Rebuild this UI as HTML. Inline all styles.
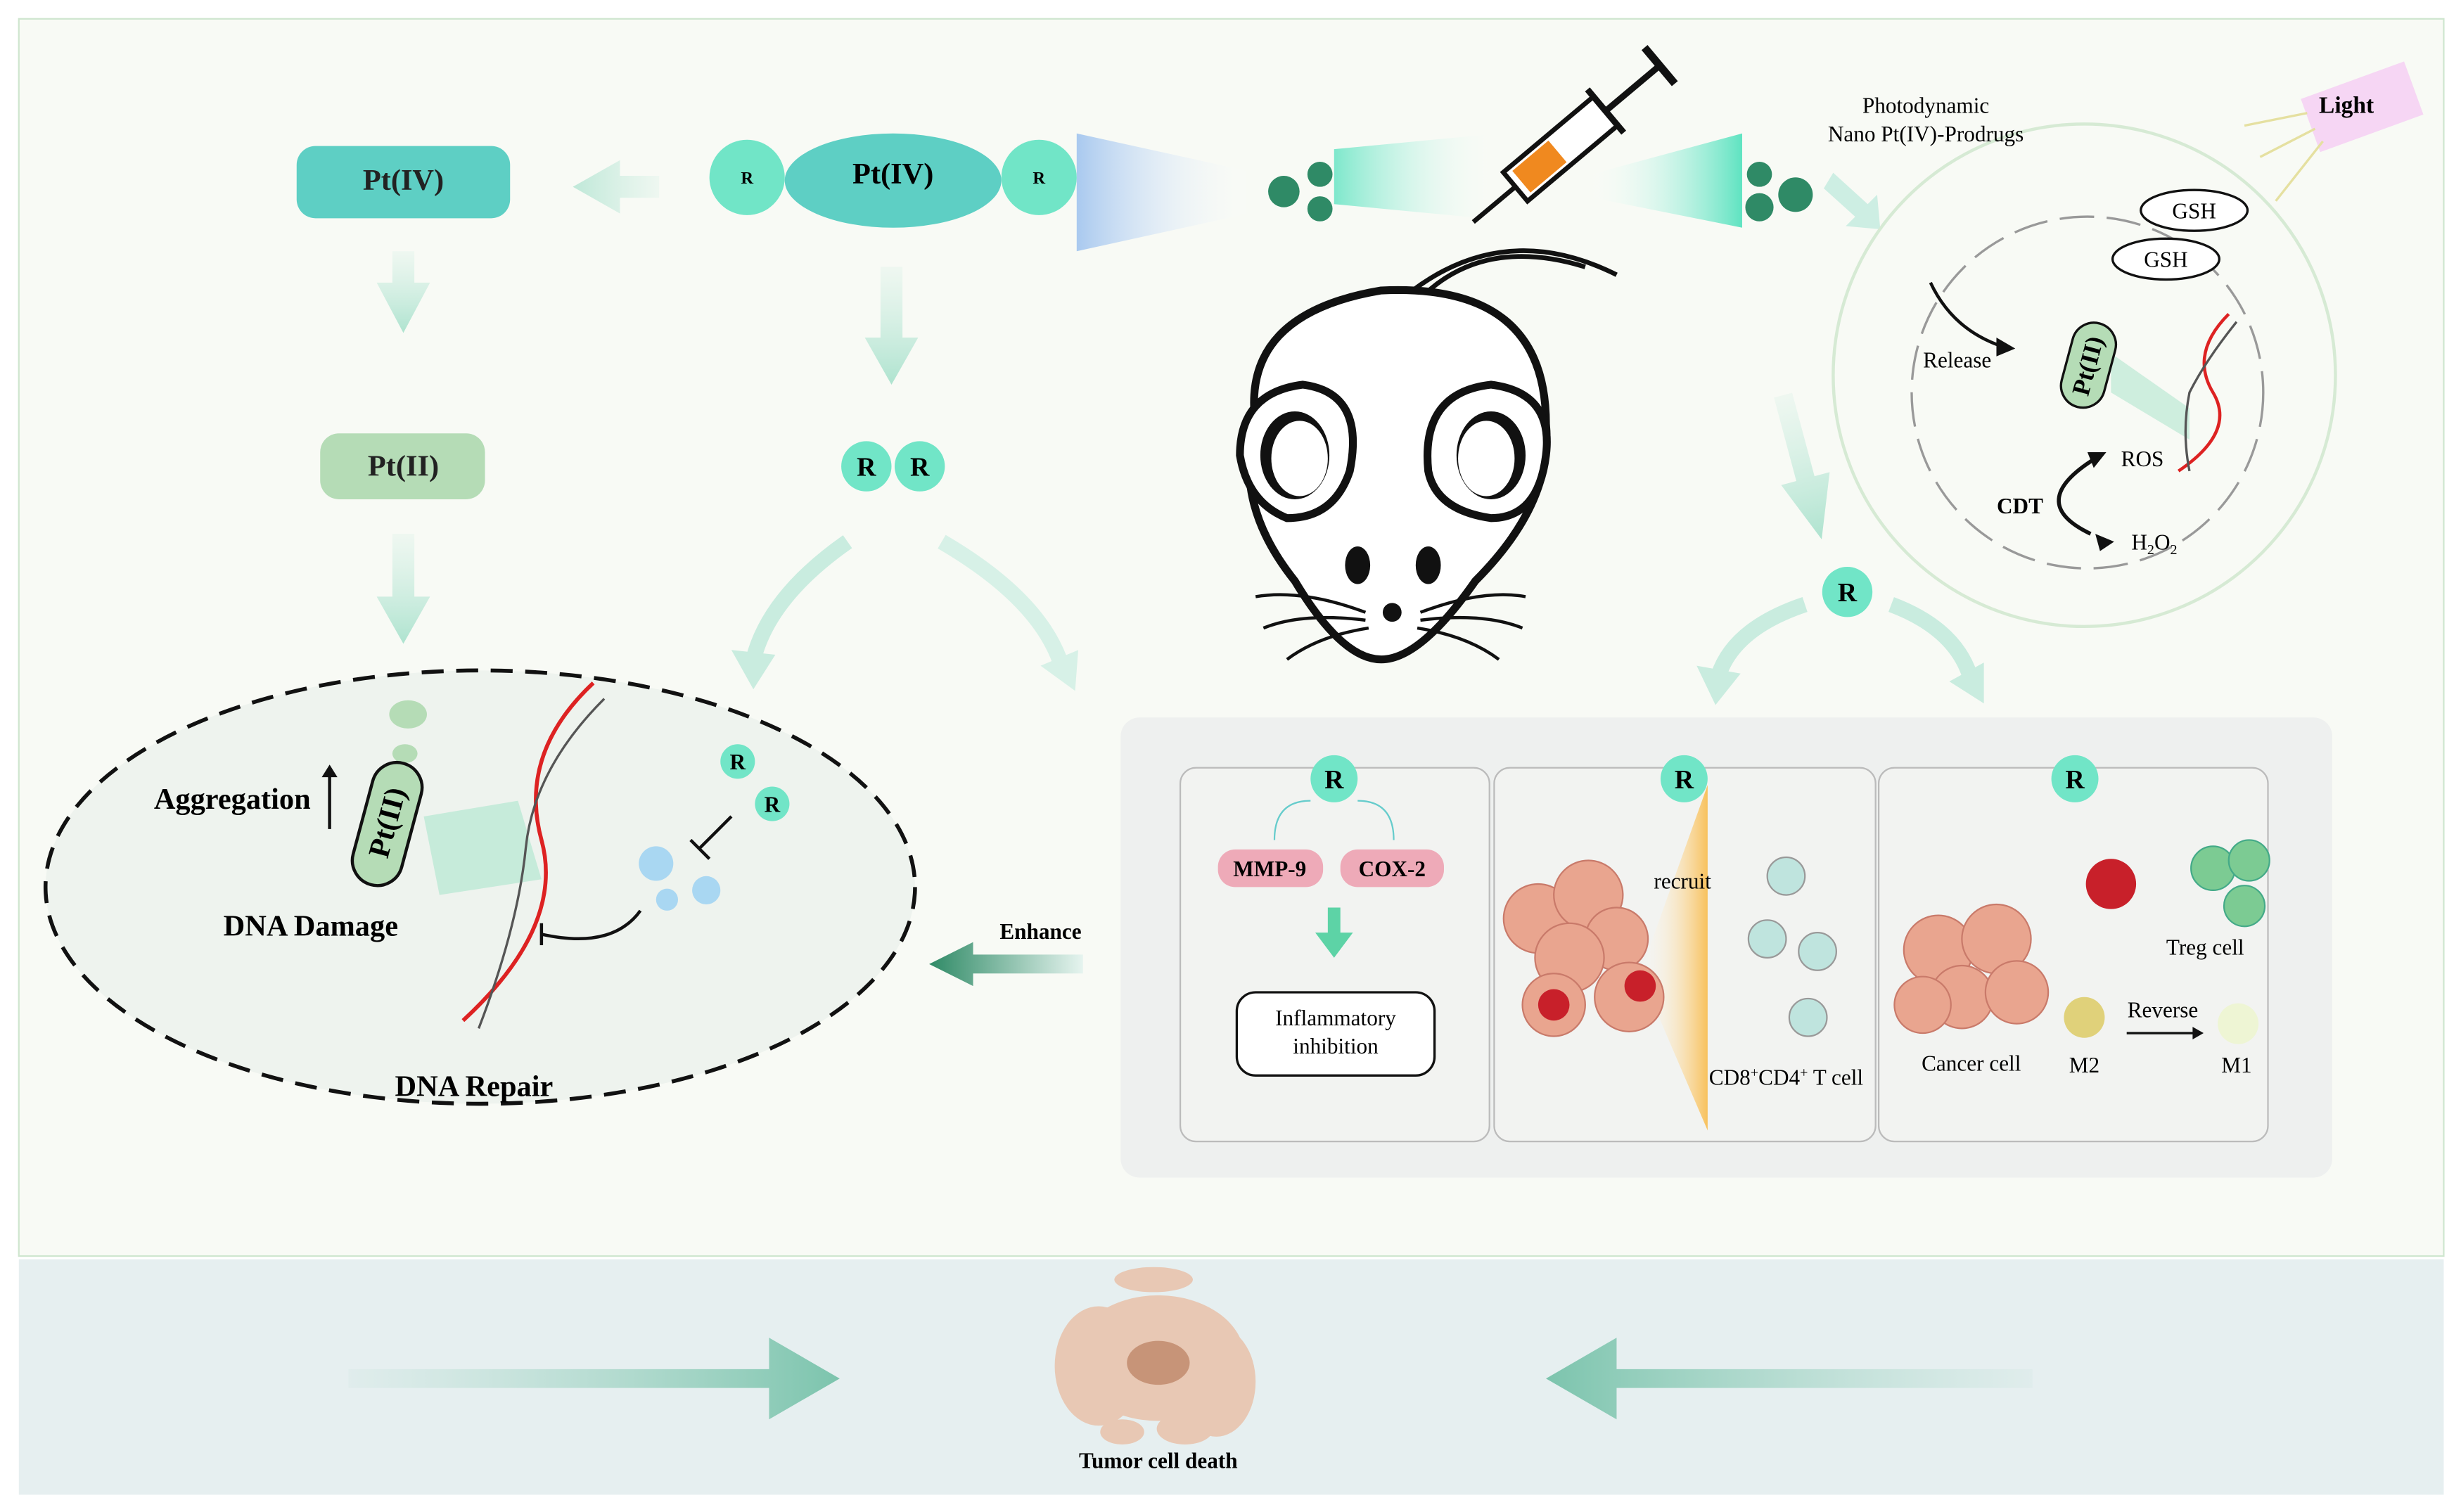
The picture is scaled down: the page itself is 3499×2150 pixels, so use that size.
<!DOCTYPE html>
<html><head><meta charset="utf-8"><style>html,body{margin:0;padding:0;background:#fff}svg{display:block}text{font-family:"Liberation Serif",serif}</style></head><body>
<svg width="3499" height="2150" viewBox="0 0 1568 963" preserveAspectRatio="none" xmlns="http://www.w3.org/2000/svg">
<defs>
<linearGradient id="ga" x1="0" y1="0" x2="0" y2="1"><stop offset="0" stop-color="#c9ecdf" stop-opacity=".2"/><stop offset="1" stop-color="#aee3cf"/></linearGradient>
<linearGradient id="gl" x1="1" y1="0" x2="0" y2="0"><stop offset="0" stop-color="#c9ecdf" stop-opacity=".2"/><stop offset="1" stop-color="#bfe8d8"/></linearGradient>
<linearGradient id="gb1" x1="0" y1="0" x2="1" y2="0"><stop offset="0" stop-color="#a8d8c8" stop-opacity=".1"/><stop offset="1" stop-color="#7cc4ad"/></linearGradient>
<linearGradient id="gb2" x1="1" y1="0" x2="0" y2="0"><stop offset="0" stop-color="#a8d8c8" stop-opacity=".1"/><stop offset="1" stop-color="#7cc4ad"/></linearGradient>
<linearGradient id="cone1" x1="0" y1="0" x2="1" y2="0"><stop offset="0" stop-color="#a9c9ef"/><stop offset="1" stop-color="#fff" stop-opacity="0"/></linearGradient>
<linearGradient id="cone2" x1="1" y1="0" x2="0" y2="0"><stop offset="0" stop-color="#5fe3c1"/><stop offset="1" stop-color="#fff" stop-opacity="0"/></linearGradient>
<linearGradient id="cone3" x1="0" y1="0" x2="1" y2="0"><stop offset="0" stop-color="#5fe3c1"/><stop offset="1" stop-color="#fff" stop-opacity="0"/></linearGradient>
<linearGradient id="yel" x1="1" y1="0" x2="0" y2="0"><stop offset="0" stop-color="#f8c15c"/><stop offset="1" stop-color="#fff" stop-opacity="0"/></linearGradient>
<linearGradient id="enh" x1="1" y1="0" x2="0" y2="0"><stop offset="0" stop-color="#e6f4ef"/><stop offset="1" stop-color="#2f8a66"/></linearGradient>
</defs>
<rect x="12" y="12" width="1545" height="788" fill="#f8faf5" stroke="#cfe6cf" stroke-width="1"/>
<rect x="12" y="802" width="1545" height="150" fill="#e6eff0"/>
<!-- left ellipse -->
<ellipse cx="306" cy="565" rx="277" ry="138" fill="#eef3ee" stroke="#111" stroke-width="2.5" stroke-dasharray="14 8"/>
<!-- Pt boxes -->
<rect x="189" y="93" width="136" height="46" rx="12" fill="#5ecfc4"/>
<text x="257" y="121" font-size="19" font-weight="bold" text-anchor="middle" fill="#222">Pt(IV)</text>
<rect x="204" y="276" width="105" height="42" rx="12" fill="#b5dcb6"/>
<text x="257" y="303" font-size="19" font-weight="bold" text-anchor="middle" fill="#222">Pt(II)</text>
<!-- arrows -->
<g fill="url(#ga)">
<path d="M250,160 h14 v20 h10 l-17,32 l-17,-32 h10z"/>
<path d="M250,340 h14 v40 h10 l-17,30 l-17,-30 h10z"/>
<path d="M561,170 h14 v45 h10 l-17,30 l-17,-30 h10z"/>
<path d="M1143,250 h12 v55 h10 l-16,40 l-16,-40 h10z" transform="rotate(-15 1149 300)"/>
</g>
<path d="M420,112 v14 h-25 v10 l-30,-17 l30,-17 v10z" fill="url(#gl)"/>
<path d="M1168,110 l22,20 l6,-6 l2,22 l-22,-2 l6,-6 l-20,-18z" fill="#cdeee3"/>
<path d="M540,345 Q490,380 480,420" stroke="#c9ecdf" stroke-width="10" fill="none"/><path d="M466,414 l14,25 l14,-22z" fill="#c9ecdf"/>
<path d="M600,345 Q660,380 675,420" stroke="#d7f1e7" stroke-width="10" fill="none"/><path d="M663,424 l22,16 l2,-26z" fill="#d7f1e7"/>
<path d="M1150,385 Q1105,400 1095,430" stroke="#c9ecdf" stroke-width="10" fill="none"/><path d="M1081,424 l12,25 l16,-20z" fill="#c9ecdf"/>
<path d="M1205,385 Q1245,400 1255,430" stroke="#c9ecdf" stroke-width="10" fill="none"/><path d="M1242,434 l22,14 l0,-26z" fill="#c9ecdf"/>
<!-- prodrug -->
<path d="M686,85 L800,110 L800,135 L686,160z" fill="url(#cone1)"/>
<circle cx="476" cy="113" r="24" fill="#71e5c7"/><text x="476" y="117" font-size="11" font-weight="bold" text-anchor="middle">R</text>
<circle cx="662" cy="113" r="24" fill="#71e5c7"/><text x="662" y="117" font-size="11" font-weight="bold" text-anchor="middle">R</text>
<ellipse cx="569" cy="115" rx="69" ry="30" fill="#5ecfc4"/>
<text x="569" y="117" font-size="19" font-weight="bold" text-anchor="middle">Pt(IV)</text>
<circle cx="552" cy="297" r="16" fill="#71e5c7"/><text x="552" y="303" font-size="17" font-weight="bold" text-anchor="middle">R</text>
<circle cx="586" cy="297" r="16" fill="#71e5c7"/><text x="586" y="303" font-size="17" font-weight="bold" text-anchor="middle">R</text>
<!-- nanoparticles -->
<path d="M850,95 L955,85 L955,140 L850,130z" fill="url(#cone3)" opacity=".8"/>
<path d="M1010,112 L1110,85 L1110,145 L1010,125z" fill="url(#cone2)"/>
<g fill="#2f8a66"><circle cx="818" cy="122" r="10"/><circle cx="841" cy="111" r="8"/><circle cx="841" cy="133" r="8"/>
<circle cx="1121" cy="111" r="8"/><circle cx="1121" cy="132" r="9"/><circle cx="1144" cy="124" r="11"/>
<circle cx="1219" cy="148" r="8"/><circle cx="1205" cy="179" r="8"/></g>
<!-- syringe -->
<g transform="rotate(-40 1000 90)"><rect x="955" y="78" width="75" height="24" fill="#fff" stroke="#111" stroke-width="3"/><rect x="960" y="81" width="30" height="18" fill="#f0891f"/><line x1="1030" y1="90" x2="1075" y2="90" stroke="#111" stroke-width="4"/><line x1="1075" y1="75" x2="1075" y2="105" stroke="#111" stroke-width="5"/><line x1="1030" y1="72" x2="1030" y2="108" stroke="#111" stroke-width="4"/><line x1="955" y1="90" x2="920" y2="90" stroke="#111" stroke-width="3"/></g>
<!-- mouse -->
<g stroke="#111" stroke-width="5" fill="#fff">
<path d="M900,185 Q960,140 1030,175" fill="none" stroke-width="3"/>
<path d="M905,190 Q945,150 1010,170" fill="none" stroke-width="3"/>
<path d="M800,270 Q790,200 880,185 Q985,180 985,270 Q990,320 940,370 Q905,420 880,420 Q855,420 825,370 Q785,320 800,270z"/>
<path d="M790,290 Q790,250 830,245 Q870,250 860,300 Q850,330 820,330 Q795,320 790,290z" fill="#fff"/>
<path d="M910,300 Q905,250 950,245 Q990,250 985,290 Q980,330 950,330 Q915,325 910,300z" fill="#fff"/>
</g>
<ellipse cx="825" cy="290" rx="22" ry="28" fill="#111"/><ellipse cx="828" cy="292" rx="18" ry="24" fill="#fff"/>
<ellipse cx="950" cy="290" rx="22" ry="28" fill="#111"/><ellipse cx="947" cy="292" rx="18" ry="24" fill="#fff"/>
<ellipse cx="865" cy="360" rx="8" ry="12" fill="#111"/><ellipse cx="910" cy="360" rx="8" ry="12" fill="#111"/>
<circle cx="887" cy="390" r="6" fill="#111"/>
<g stroke="#111" stroke-width="2" fill="none"><path d="M870,390 Q830,375 800,380"/><path d="M870,395 Q830,390 805,400"/><path d="M872,400 Q840,405 820,420"/><path d="M905,390 Q945,375 972,380"/><path d="M905,395 Q945,390 970,400"/><path d="M903,400 Q935,405 955,420"/></g>
<!-- right circle -->
<circle cx="1328" cy="239" r="160" fill="#f8faf5" stroke="#d6ead4" stroke-width="2"/>
<circle cx="1330" cy="250" r="112" fill="none" stroke="#999" stroke-width="1.5" stroke-dasharray="22 8"/>
<text x="1227" y="72" font-size="14" text-anchor="middle">Photodynamic</text>
<text x="1227" y="90" font-size="14" text-anchor="middle">Nano Pt(IV)-Prodrugs</text>
<g transform="rotate(-20 1505 68)"><rect x="1470" y="50" width="70" height="36" fill="#f6d6f4"/></g>
<text x="1495" y="72" font-size="15" font-weight="bold" text-anchor="middle">Light</text>
<g stroke="#e5e0a0" stroke-width="1.5"><line x1="1470" y1="72" x2="1430" y2="80"/><line x1="1475" y1="82" x2="1440" y2="100"/><line x1="1480" y1="90" x2="1450" y2="128"/></g>
<ellipse cx="1398" cy="134" rx="34" ry="13" fill="#fff" stroke="#111" stroke-width="1.5"/><text x="1398" y="139" font-size="14" text-anchor="middle">GSH</text>
<ellipse cx="1380" cy="165" rx="34" ry="13" fill="#fff" stroke="#111" stroke-width="1.5"/><text x="1380" y="170" font-size="14" text-anchor="middle">GSH</text>
<path d="M1230,180 Q1245,212 1280,222" stroke="#111" stroke-width="2" fill="none"/><path d="M1284,222 l-12,-7 l0,12z" fill="#111"/>
<text x="1247" y="234" font-size="14" text-anchor="middle">Release</text>
<path d="M1345,225 L1395,260 L1395,280 L1345,250z" fill="#bce8d4" opacity=".7"/>
<g transform="rotate(15 1330 235)"><rect x="1316" y="205" width="28" height="55" rx="14" fill="#b5dcb6" stroke="#111" stroke-width="1.5"/><text x="1330" y="238" font-size="16" font-weight="bold" text-anchor="middle" transform="rotate(-90 1330 233)">Pt(II)</text></g>
<path d="M1420,200 Q1395,225 1410,250 Q1425,275 1388,300" stroke="#d22" stroke-width="2" fill="none"/>
<path d="M1425,205 Q1405,230 1395,250 Q1390,275 1395,300" stroke="#555" stroke-width="1.5" fill="none"/>
<path d="M1332,340 Q1290,320 1335,292" stroke="#111" stroke-width="2.5" fill="none"/><path d="M1342,288 l-12,0 l4,10z" fill="#111"/><path d="M1335,340 l12,5 l-9,6z" fill="#111"/>
<text x="1365" y="297" font-size="14" text-anchor="middle">ROS</text>
<text x="1287" y="327" font-size="14" font-weight="bold" text-anchor="middle">CDT</text>
<text x="1358" y="350" font-size="14">H<tspan font-size="9" dy="3">2</tspan><tspan dy="-3">O</tspan><tspan font-size="9" dy="3">2</tspan></text>
<circle cx="1177" cy="377" r="16" fill="#71e5c7"/><text x="1177" y="383" font-size="17" font-weight="bold" text-anchor="middle">R</text>
<!-- left ellipse content -->
<ellipse cx="260" cy="455" rx="12" ry="9" fill="#b5dcb6"/><ellipse cx="258" cy="480" rx="8" ry="6" fill="#b5dcb6"/>
<path d="M270,520 L330,510 L345,560 L280,570z" fill="#bce8d4" opacity=".8"/>
<g transform="rotate(15 248 520)"><rect x="232" y="485" width="32" height="80" rx="16" fill="#b5dcb6" stroke="#111" stroke-width="2"/><text x="248" y="530" font-size="19" font-weight="bold" text-anchor="middle" transform="rotate(-90 248 524)">Pt(II)</text></g>
<text x="148" y="515" font-size="19" font-weight="bold" text-anchor="middle">Aggregation</text>
<line x1="210" y1="528" x2="210" y2="492" stroke="#111" stroke-width="2"/><path d="M205,495 l5,-8 l5,8z" fill="#111"/>
<text x="198" y="596" font-size="19" font-weight="bold" text-anchor="middle">DNA Damage</text>
<text x="302" y="698" font-size="19" font-weight="bold" text-anchor="middle">DNA Repair</text>
<path d="M378,435 Q330,480 345,535 Q360,590 295,650" stroke="#d22" stroke-width="2.5" fill="none"/>
<path d="M385,445 Q340,490 335,540 Q330,590 305,655" stroke="#555" stroke-width="1.5" fill="none"/>
<circle cx="470" cy="485" r="11" fill="#71e5c7"/><text x="470" y="490" font-size="14" font-weight="bold" text-anchor="middle">R</text>
<circle cx="492" cy="512" r="11" fill="#71e5c7"/><text x="492" y="517" font-size="14" font-weight="bold" text-anchor="middle">R</text>
<path d="M466,520 L446,540" stroke="#111" stroke-width="2"/><path d="M440,535 l12,12" stroke="#111" stroke-width="2"/>
<g fill="#a9d7f2"><circle cx="418" cy="550" r="11"/><circle cx="450" cy="567" r="9"/><circle cx="425" cy="573" r="7"/></g>
<path d="M408,580 Q390,605 345,595" stroke="#111" stroke-width="2" fill="none"/><line x1="345" y1="588" x2="345" y2="602" stroke="#111" stroke-width="2"/>
<text x="663" y="598" font-size="14" font-weight="bold" text-anchor="middle">Enhance</text>
<path d="M690,608 v12 h-70 v8 l-28,-14 l28,-14 v8z" fill="url(#enh)"/>
<!-- right gray box -->
<rect x="714" y="457" width="772" height="293" rx="12" fill="#eef0ef"/>
<rect x="752" y="489" width="197" height="238" rx="10" fill="#f2f3f1" stroke="#bbb"/>
<rect x="952" y="489" width="243" height="238" rx="10" fill="#f2f3f1" stroke="#bbb"/>
<rect x="1197" y="489" width="248" height="238" rx="10" fill="#f2f3f1" stroke="#bbb"/>
<g><circle cx="850" cy="496" r="15" fill="#71e5c7"/><text x="850" y="502" font-size="17" font-weight="bold" text-anchor="middle">R</text>
<circle cx="1073" cy="496" r="15" fill="#71e5c7"/><text x="1073" y="502" font-size="17" font-weight="bold" text-anchor="middle">R</text>
<circle cx="1322" cy="496" r="15" fill="#71e5c7"/><text x="1322" y="502" font-size="17" font-weight="bold" text-anchor="middle">R</text></g>
<path d="M835,510 Q812,510 812,535" stroke="#6cc" fill="none"/><path d="M865,510 Q888,510 888,535" stroke="#6cc" fill="none"/>
<rect x="776" y="541" width="67" height="24" rx="11" fill="#eeaab8"/><text x="809" y="558" font-size="14" font-weight="bold" text-anchor="middle">MMP-9</text>
<rect x="854" y="541" width="66" height="24" rx="11" fill="#eeaab8"/><text x="887" y="558" font-size="14" font-weight="bold" text-anchor="middle">COX-2</text>
<path d="M846,578 h8 v16 h8 l-12,16 l-12,-16 h8z" fill="#5dd3a6"/>
<rect x="788" y="632" width="126" height="53" rx="12" fill="#fff" stroke="#111" stroke-width="1.5"/>
<text x="851" y="653" font-size="14" text-anchor="middle">Inflammatory</text><text x="851" y="671" font-size="14" text-anchor="middle">inhibition</text>
<path d="M1088,500 L1088,720 L1045,620z" fill="url(#yel)"/>
<g fill="#e9a58f" stroke="#c97a6a"><circle cx="980" cy="585" r="22"/><circle cx="1012" cy="570" r="22"/><circle cx="1030" cy="598" r="20"/><circle cx="1000" cy="610" r="22"/><circle cx="990" cy="640" r="20"/><circle cx="1038" cy="635" r="22"/></g>
<g fill="#c8202a"><circle cx="990" cy="640" r="10"/><circle cx="1045" cy="628" r="10"/></g>
<text x="1072" y="566" font-size="14" text-anchor="middle">recruit</text>
<g fill="#bfe4de" stroke="#999"><circle cx="1138" cy="558" r="12"/><circle cx="1126" cy="598" r="12"/><circle cx="1158" cy="606" r="12"/><circle cx="1152" cy="648" r="12"/></g>
<text x="1138" y="691" font-size="14" text-anchor="middle">CD8<tspan font-size="9" dy="-5">+</tspan><tspan dy="5">CD4</tspan><tspan font-size="9" dy="-5">+</tspan><tspan dy="5"> T cell</tspan></text>
<g fill="#e9a58f" stroke="#c97a6a"><circle cx="1235" cy="605" r="22"/><circle cx="1272" cy="598" r="22"/><circle cx="1250" cy="635" r="20"/><circle cx="1285" cy="632" r="20"/><circle cx="1225" cy="640" r="18"/></g>
<circle cx="1345" cy="563" r="16" fill="#c8202a"/>
<g fill="#7ccb93" stroke="#4a8"><circle cx="1410" cy="553" r="14"/><circle cx="1433" cy="548" r="13"/><circle cx="1430" cy="577" r="13"/></g>
<text x="1405" y="608" font-size="14" text-anchor="middle">Treg cell</text>
<circle cx="1328" cy="648" r="13" fill="#e0d17a"/><circle cx="1426" cy="652" r="13" fill="#eef5d4"/>
<line x1="1355" y1="658" x2="1402" y2="658" stroke="#111" stroke-width="1.5"/><path d="M1404,658 l-7,-4 l0,8z" fill="#111"/>
<text x="1378" y="648" font-size="14" text-anchor="middle">Reverse</text>
<text x="1256" y="682" font-size="14" text-anchor="middle">Cancer cell</text>
<text x="1328" y="683" font-size="14" text-anchor="middle">M2</text>
<text x="1425" y="683" font-size="14" text-anchor="middle">M1</text>
<!-- bottom -->
<path d="M222,872 L490,872 L490,852 L535,878 L490,904 L490,884 L222,884z" fill="url(#gb1)"/>
<path d="M1295,872 L1030,872 L1030,852 L985,878 L1030,904 L1030,884 L1295,884z" fill="url(#gb2)"/>
<g fill="#e8c8b4"><ellipse cx="738" cy="865" rx="55" ry="40"/><ellipse cx="700" cy="870" rx="28" ry="38"/><ellipse cx="775" cy="880" rx="25" ry="35"/><ellipse cx="735" cy="815" rx="25" ry="8"/><ellipse cx="755" cy="910" rx="18" ry="10"/><ellipse cx="715" cy="912" rx="14" ry="8"/></g>
<ellipse cx="738" cy="868" rx="20" ry="14" fill="#c79478"/>
<text x="738" y="935" font-size="14" font-weight="bold" text-anchor="middle">Tumor cell death</text>
</svg>
</body></html>
